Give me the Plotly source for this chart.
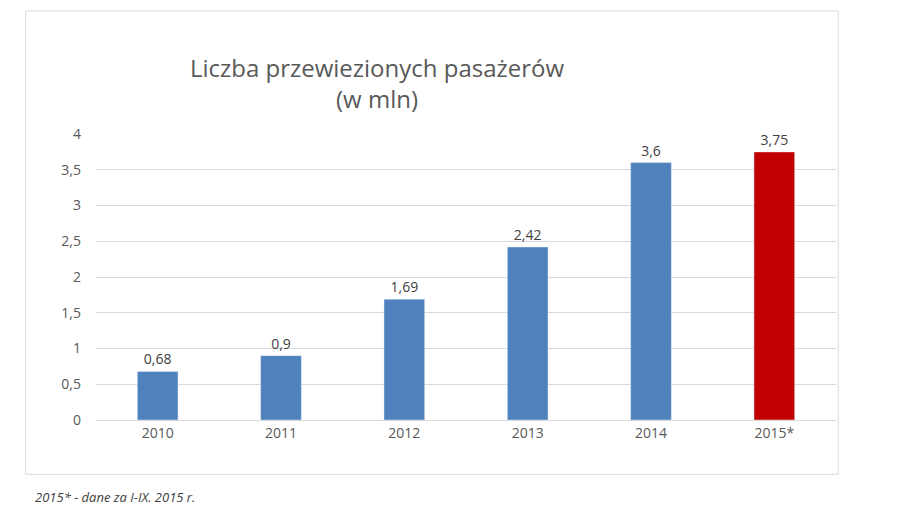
import plotly.graph_objects as go

years = ["2010", "2011", "2012", "2013", "2014", "2015*"]
passengers = [0.68, 0.9, 1.69, 2.42, 3.6, 3.75]
colors = ["#4F81BD"] * 5 + ["#C00000"]

fig = go.Figure(go.Bar(
    x=years, y=passengers, marker_color=colors,
    text=[str(v).replace(".", ",") for v in passengers],
    textposition="outside", textfont=dict(size=14, color="#404040"),
    cliponaxis=False,
))

fig.update_layout(
    width=900, height=528,
    margin=dict(l=88, r=72, t=126, b=116),
    paper_bgcolor="white", plot_bgcolor="white",
    separators=",.",
    bargap=0.67,
    showlegend=False,
    font=dict(family="Open Sans, Liberation Sans, sans-serif", color="#595959"),
    title=dict(text="Liczba przewiezionych pasażerów<br>(w mln)",
               x=0.41, xanchor="center", y=0.87, yanchor="middle",
               font=dict(size=24, color="#595959")),
)
fig.update_yaxes(range=[0, 4], dtick=0.5, gridcolor="#D9D9D9", zeroline=False,
                 tickfont=dict(size=14, color="#595959"), ticks="",
                 ticklabelstandoff=14)
fig.update_xaxes(showline=True, linecolor="#D9D9D9",
                 tickfont=dict(size=14, color="#595959"))

# chart frame
fig.add_shape(type="rect", xref="paper", yref="paper",
              x0=-0.095, x1=1.003, y0=-0.19, y1=1.43,
              line=dict(color="#D9D9D9", width=1))
fig.add_annotation(text="<i>2015* - dane za I-IX. 2015 r.</i>", xref="paper", yref="paper",
                   x=-0.085, y=-0.27, xanchor="left", yanchor="middle", showarrow=False,
                   font=dict(size=13, color="#404040"))

fig.write_html("out.html")
